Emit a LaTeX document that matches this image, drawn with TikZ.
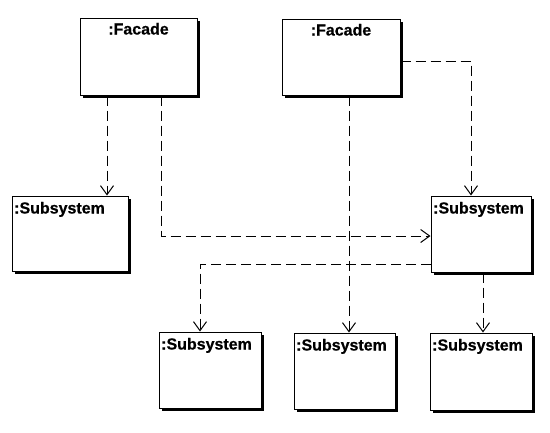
\documentclass[tikz,border=0pt]{standalone}
\usepackage{fontspec}
\setmainfont{Liberation Sans}
\usetikzlibrary{arrows.meta,shadows}
\begin{document}
\begin{tikzpicture}[x=1pt,y=-1pt,
  obj/.style={draw=black, line width=1pt, fill=white, rectangle, inner sep=0pt,
    drop shadow={shadow xshift=2.8pt, shadow yshift=-2.8pt, fill=black, opacity=1}},
  lbl/.style={inner sep=0pt, font=\fontsize{16}{16}\selectfont\bfseries\addfontfeatures{FakeBold=0.6}},
  facade/.style={obj, label={[lbl, anchor=base, yshift=-17pt]north:{:Facade}}},
  subsys/.style={obj, label={[lbl, anchor=base west, xshift=2.5pt, yshift=-18pt]north west:{:Subsystem}}},
  dep/.style={draw=black, line width=0.9pt, dash pattern=on 10pt off 5pt,
    -{Straight Barb[length=9pt,width=13pt,line width=1pt]}}
]
\useasboundingbox (0,0) rectangle (550,432);
\fill[white] (0,0) rectangle (550,432);

\node[facade, minimum width=117pt, minimum height=77pt] (F1) at (138.5,56.5) {};
\node[facade, minimum width=118pt, minimum height=76pt] (F2) at (341,57) {};
\node[subsys, minimum width=116pt, minimum height=75pt] (S1) at (70,233.5) {};
\node[subsys, minimum width=100pt, minimum height=76pt] (S2) at (481,234) {};
\node[subsys, minimum width=102pt, minimum height=76pt] (S3) at (210,370) {};
\node[subsys, minimum width=101pt, minimum height=76pt] (S4) at (344.5,371) {};
\node[subsys, minimum width=102pt, minimum height=77pt] (S5) at (481,371.5) {};

\coordinate (xa) at (107,0);
\coordinate (xb) at (161,0);
\coordinate (yb) at (0,236);
\coordinate (yc) at (0,61);
\coordinate (xc) at (471,0);
\coordinate (xd) at (349,0);
\coordinate (ye) at (0,264);
\coordinate (xe) at (200,0);
\coordinate (xf) at (483,0);

\draw[dep] (F1.south -| xa) -- (S1.north -| xa);
\draw[dep] (F1.south -| xb) |- (S2.west |- yb);
\draw[dep] (F2.east |- yc) -| (S2.north -| xc);
\draw[dep] (F2.south -| xd) -- (S4.north -| xd);
\draw[dep] (S2.west |- ye) -| (S3.north -| xe);
\draw[dep] (S2.south -| xf) -- (S5.north -| xf);
\end{tikzpicture}
\end{document}
